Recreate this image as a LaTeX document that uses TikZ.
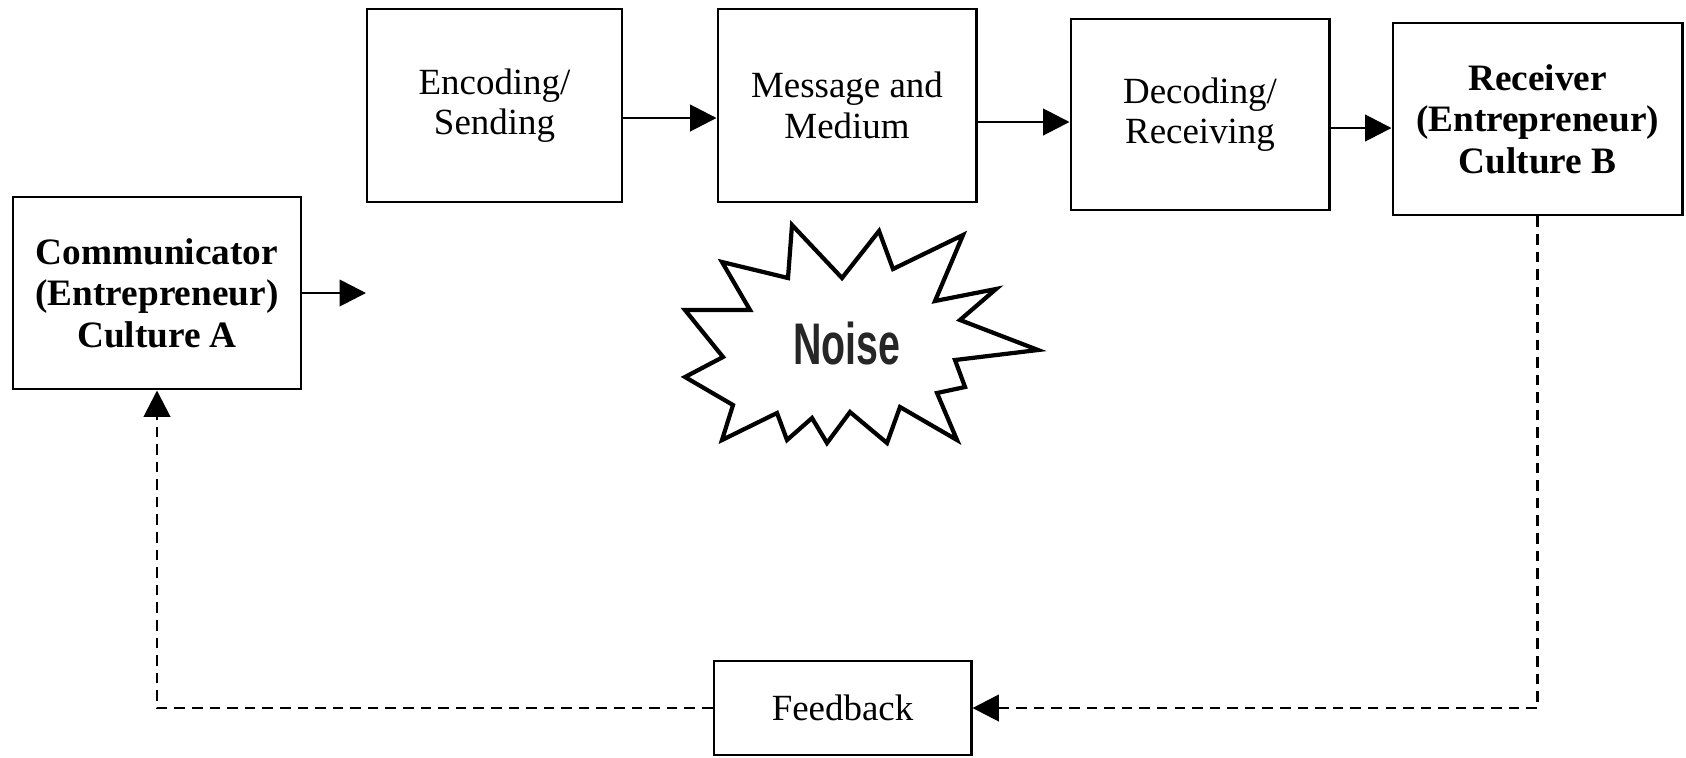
\documentclass[tikz,border=0pt]{standalone}
\usepackage{fontspec}
\setmainfont{Liberation Serif}
\newfontfamily\noisefont{Liberation Sans}
\usetikzlibrary{arrows.meta, positioning, calc}

\begin{document}
\begin{tikzpicture}[x=0.01cm, y=-0.01cm,
  box/.style={draw, line width=0.8pt, align=center, inner sep=2pt,
    font=\fontsize{10.5}{11.5}\selectfont},
  bbox/.style={box, font=\fontsize{10.6}{11.8}\selectfont\bfseries},
  arr/.style={-{Triangle[length=7.5pt, width=7.5pt]}, line width=0.8pt},
  fbline/.style={arr, dash pattern=on 3pt off 2pt}]
\useasboundingbox (0,0) rectangle (1686,757);

% Sender and receiver
\node[bbox, minimum width=2.88cm, minimum height=1.92cm] (comm) at (157,293)
  {Communicator\\(Entrepreneur)\\Culture A};
\node[bbox, minimum width=2.89cm, minimum height=1.92cm] (rec) at (1537.5,119)
  {Receiver\\(Entrepreneur)\\Culture B};

% Channel
\node[box, minimum width=2.55cm, minimum height=1.93cm] (enc) at (494.5,105.5) {Encoding/\\Sending};
\node[box, minimum width=2.58cm, minimum height=1.93cm] (msg) at (847,105.5) {Message and\\Medium};
\node[box, minimum width=2.58cm, minimum height=1.91cm] (dec) at (1200,114.5) {Decoding/\\Receiving};
\node[box, minimum width=2.57cm, minimum height=0.94cm] (fb) at (842.5,708) {Feedback};

\coordinate (commout) at (366,293);
\draw[arr] (comm.east) -- (commout);
\draw[arr] (enc.east |- 0,118) -- (msg.west |- 0,118);
\draw[arr] (msg.east |- 0,122) -- (dec.west |- 0,122);
\draw[arr] (dec.east |- 0,128) -- (rec.west |- 0,128);

% Feedback loop
\draw[fbline] (rec.south) |- (fb.east);
\draw[fbline] (fb.west) -| (comm.south);

% Noise
\draw[line width=1.2pt, line join=miter]
  (792,225) -- (842,278) -- (879,231) -- (893,269) -- (963,235) -- (935,301)
  -- (996,289) -- (960,320) -- (1038,350) -- (955,360) -- (965,387) -- (937,393)
  -- (957,440) -- (900,407) -- (887,443) -- (850,412) -- (827,443) -- (812,418)
  -- (787,440) -- (777,413) -- (722,440) -- (733,405) -- (685,377) -- (723,357)
  -- (685,310) -- (750,310) -- (722,262) -- (788,278) -- cycle;
\node[font=\noisefont\fontsize{16.7}{18}\selectfont\bfseries, text=black!85] (noise) at (847,343)
  {\scalebox{0.67}[1]{Noise}};
\end{tikzpicture}
\end{document}
